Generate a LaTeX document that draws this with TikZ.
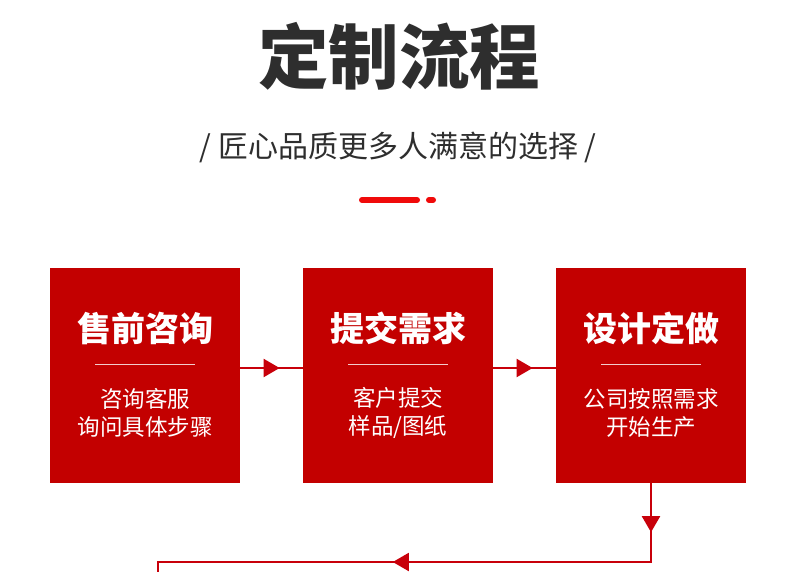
\documentclass[tikz,border=0pt]{standalone}
\usepackage{fontspec}
\newfontfamily\cjk{Noto Sans CJK SC}
\usetikzlibrary{arrows.meta,decorations.markings}
\definecolor{boxred}{HTML}{C30000}
\definecolor{linered}{HTML}{C8000A}
\definecolor{dashred}{HTML}{F00A0A}
\definecolor{txtdark}{HTML}{2E2E2E}
\tikzset{
  stepbox/.style={draw=none,fill=boxred,minimum width=190pt,minimum height=215pt,inner sep=0pt},
  boxtitle/.style={text=white,font=\cjk\bfseries\fontsize{34}{40}\selectfont,inner sep=0pt},
  boxsub/.style={text=white,font=\cjk\fontsize{22.5}{28}\selectfont,align=center,inner sep=0pt},
  sepline/.style={draw=white!80!boxred,line width=1pt},
  conn/.style={draw=linered,line width=2pt},
  midtip/.style={postaction={decorate,decoration={markings,mark=at position #1 with {\arrow[linered]{Triangle[width=18pt,length=16pt]}}}}},
}
\begin{document}
\begin{tikzpicture}[x=1pt,y=-1pt]
\useasboundingbox[fill=white] (0,0) rectangle (800,571);
% title
\node[text=txtdark,font=\cjk\bfseries\fontsize{70.5}{74}\selectfont,inner sep=0pt] (title) at (399,56) {定制流程};
\node[text=txtdark,font=\cjk\fontsize{30}{34}\selectfont,inner sep=0pt] (subtitle) at (398,147) {/ 匠心品质更多人满意的选择 /};
% red dash
\coordinate (d1) at (362,200);
\coordinate (d2) at (417,200);
\coordinate (d3) at (429,200);
\coordinate (d4) at (433,200);
\draw[dashred,line width=6pt,line cap=round] (d1) -- (d2);
\draw[dashred,line width=6pt,line cap=round] (d3) -- (d4);
% boxes
\node[stepbox] (b1) at (145,375.5) {};
\node[stepbox] (b2) at (398,375.5) {};
\node[stepbox] (b3) at (651,375.5) {};
\foreach \b/\t/\s in {b1/{售前咨询}/{咨询客服\\询问具体步骤}, b2/{提交需求}/{客户提交\\样品/图纸}, b3/{设计定做}/{公司按照需求\\开始生产}}{
  \node[boxtitle] (\b t) at ([yshift=-60.5pt]\b.north) {\t};
  \coordinate (\b l) at ([xshift=-50pt,yshift=-97pt]\b.north);
  \coordinate (\b r) at ([xshift=50pt,yshift=-97pt]\b.north);
  \draw[sepline] (\b l) -- (\b r);
  \node[boxsub] (\b s) at ([yshift=-145pt]\b.north) {\s};
}
% connectors
\coordinate (c1) at (651,562);
\coordinate (c2) at (158,562);
\coordinate (c3) at (158,575);
\draw[conn,midtip=0.63] ([yshift=7.5pt]b1.east) -- ([yshift=7.5pt]b2.west);
\draw[conn,midtip=0.63] ([yshift=7.5pt]b2.east) -- ([yshift=7.5pt]b3.west);
\draw[conn,postaction={decorate,decoration={markings,mark=at position 49pt with {\arrow[linered]{Triangle[width=18pt,length=16pt]}},mark=at position 337pt with {\arrow[linered]{Triangle[width=18pt,length=16pt]}}}}] (b3.south) -- (c1) -- (c2) -- (c3);
\end{tikzpicture}
\end{document}
